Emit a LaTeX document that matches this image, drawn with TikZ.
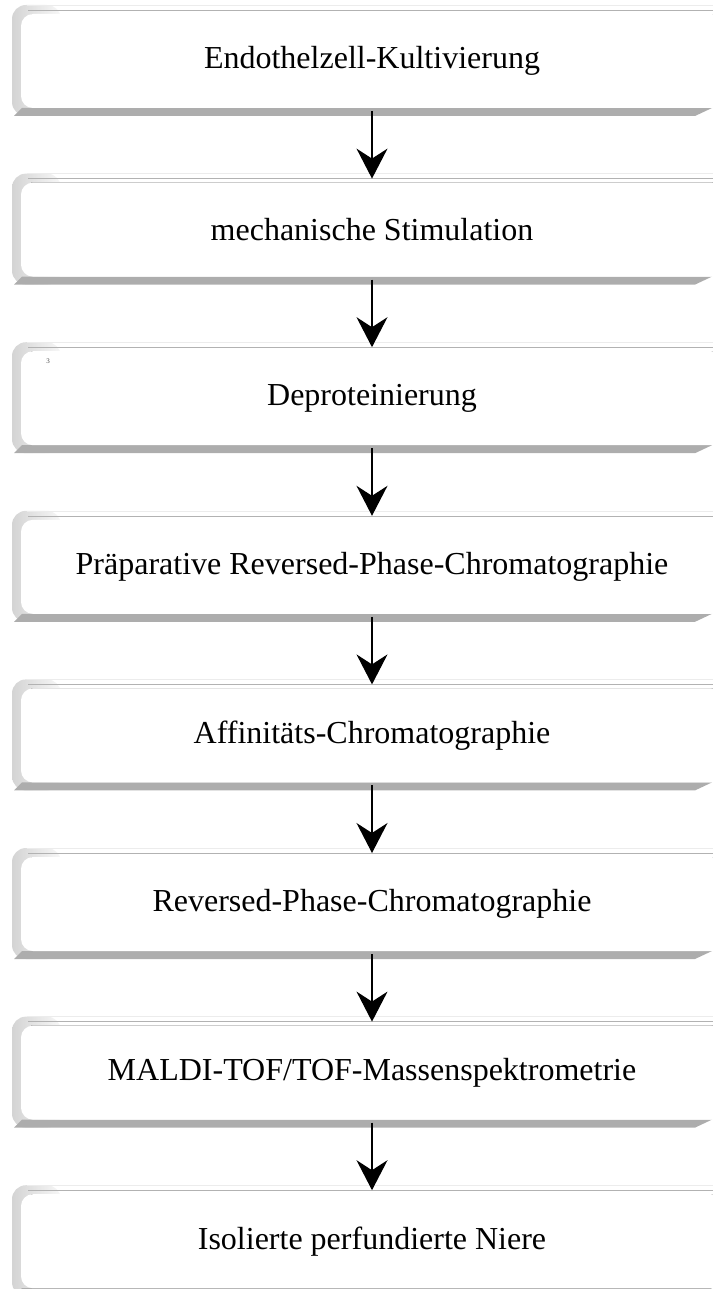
\documentclass[tikz,border=0pt]{standalone}
\usepackage{fontspec}
\setmainfont{Liberation Serif}
\usetikzlibrary{arrows.meta,positioning,backgrounds}
%% bevel behind a step box
\newcommand{\stepbevel}[1]{%
\shade[left color=gray!34,right color=gray!6,rounded corners=14pt] ([xshift=-9pt,yshift=9pt]#1.north west) rectangle ([xshift=40pt,yshift=-8pt]#1.south west);
\fill[gray!64] ([xshift=1pt]#1.south west) -- ([xshift=-7pt,yshift=-8pt]#1.south west) -- ([xshift=-28pt,yshift=-8pt]#1.south east) -- ([xshift=-11pt]#1.south east) -- cycle;
\draw[gray!15] ([xshift=6pt,yshift=9pt]#1.north west) -- ([yshift=9pt]#1.north east);
\draw[gray!60] ([xshift=7pt,yshift=4pt]#1.north west) -- ([yshift=4pt]#1.north east);
\draw[gray!60] ([xshift=10pt]#1.north west) -- (#1.north east);}
\tikzset{stepbox/.style={fill=white,rounded corners=12pt,minimum width=702pt,minimum height=94pt,inner sep=0pt,outer sep=0pt,font=\fontsize{32}{38}\selectfont},
arr/.style={line width=1.2pt,-{Stealth[length=30pt,width=31pt,inset=10pt]}}}
\begin{document}
\begin{tikzpicture}
[node distance=74.6pt]
\useasboundingbox (0,0) rectangle (712pt,-1289pt);
%% steps
\node[stepbox] (E) at (372pt,-61pt) {Endothelzell-Kultivierung};
\node[stepbox,below=of E] (M) {mechanische Stimulation};
\node[stepbox,below=of M] (D) {Deproteinierung};
\node[font=\fontsize{7}{8}\selectfont,text=gray!60!black] (n3) at ([xshift=27pt,yshift=-10pt]D.north west) {3};
\node[stepbox,below=of D] (P) {Präparative Reversed-Phase-Chromatographie};
\node[stepbox,below=of P] (A) {Affinitäts-Chromatographie};
\node[stepbox,below=of A] (R) {Reversed-Phase-Chromatographie};
\node[stepbox,below=of R] (T) {MALDI-TOF/TOF-Massenspektrometrie};
\node[stepbox,below=of T] (I) {Isolierte perfundierte Niere};
%% bevels
\begin{scope}[on background layer]
\stepbevel{E}
\stepbevel{M}
\stepbevel{D}
\stepbevel{P}
\stepbevel{A}
\stepbevel{R}
\stepbevel{T}
\stepbevel{I}
\end{scope}
%% arrows
\draw[arr] ([yshift=-3pt]E.south) -- ([yshift=4pt]M.north);
\draw[arr] ([yshift=-3pt]M.south) -- ([yshift=4pt]D.north);
\draw[arr] ([yshift=-3pt]D.south) -- ([yshift=4pt]P.north);
\draw[arr] ([yshift=-3pt]P.south) -- ([yshift=4pt]A.north);
\draw[arr] ([yshift=-3pt]A.south) -- ([yshift=4pt]R.north);
\draw[arr] ([yshift=-3pt]R.south) -- ([yshift=4pt]T.north);
\draw[arr] ([yshift=-3pt]T.south) -- ([yshift=4pt]I.north);
\end{tikzpicture}
\end{document}
